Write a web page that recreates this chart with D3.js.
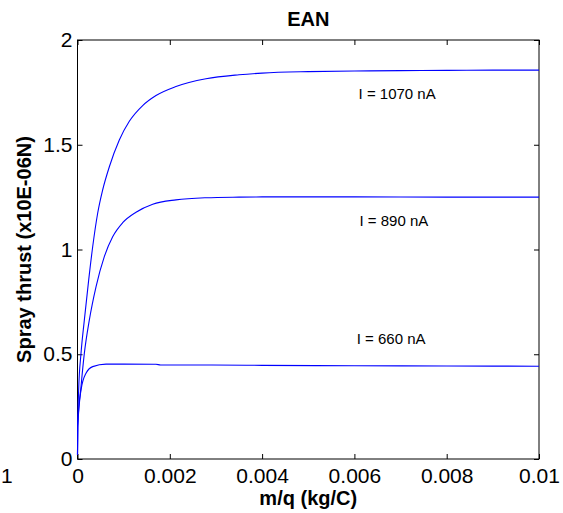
<!DOCTYPE html>
<html>
<head>
<meta charset="utf-8">
<script src="https://cdn.jsdelivr.net/npm/d3@7"></script>
<style>
  body { margin: 0; background: #fff; }
  text { font-family: Arial, "Liberation Sans", sans-serif; }
</style>
</head>
<body>
<div id="chart"></div>
<script>
// EAN spray thrust vs m/q, three emission currents

var xTicks = [0, 0.002, 0.004, 0.006, 0.008, 0.01];
var yTicks = [0, 0.5, 1, 1.5, 2];

var mq1070 = [0, 0.000005, 0.000025, 0.000076, 0.000148, 0.000242, 0.000329, 0.000437, 0.000545, 0.00069, 0.000906, 0.001123, 0.001412, 0.001701, 0.002134, 0.002784, 0.0035, 0.004, 0.005, 0.006, 0.007, 0.008, 0.009, 0.01];
var thrust1070 = [0.02, 0.16, 0.329, 0.504, 0.663, 0.854, 1.013, 1.173, 1.284, 1.395, 1.523, 1.612, 1.687, 1.735, 1.778, 1.815, 1.834, 1.842, 1.849, 1.852, 1.854, 1.855, 1.856, 1.856];

var mq890 = [0, 0.000005, 0.000076, 0.000148, 0.000256, 0.000401, 0.000581, 0.000762, 0.000979, 0.001268, 0.00163, 0.002134, 0.002784, 0.0035, 0.004, 0.006, 0.008, 0.01];
var thrust890 = [0.02, 0.16, 0.345, 0.504, 0.663, 0.822, 0.966, 1.061, 1.128, 1.178, 1.216, 1.237, 1.247, 1.25, 1.251, 1.251, 1.25, 1.25];

var mq660 = [0, 0.000005, 0.000076, 0.000184, 0.000329, 0.000618, 0.001, 0.0017, 0.0018, 0.00278, 0.004, 0.006, 0.008, 0.01];
var thrust660 = [0.02, 0.15, 0.329, 0.409, 0.441, 0.453, 0.453, 0.452, 0.449, 0.449, 0.447, 0.445, 0.444, 0.443];

var labels = ["I = 1070 nA", "I = 890 nA", "I = 660 nA"];
var labelX = [0.00609, 0.00611, 0.00605];
var labelY = [1.72, 1.11, 0.55];

var width = 563, height = 513;
var margin = {left: 77.5, right: 24, top: 40, bottom: 54};

var svg = d3.select("#chart").append("svg")
    .attr("width", width)
    .attr("height", height);

var x = d3.scaleLinear().domain([0, 0.01]).range([margin.left, width - margin.right]);
var y = d3.scaleLinear().domain([0, 2]).range([height - margin.bottom, margin.top]);
var fmt = d3.format("~g");

// box
svg.append("rect")
    .attr("x", x(0)).attr("y", y(2))
    .attr("width", x(0.01) - x(0)).attr("height", y(0) - y(2))
    .attr("fill", "none").attr("stroke", "#000").attr("stroke-width", 1);

function styleAxis(g) {
  g.select(".domain").remove();
  g.selectAll("line").attr("stroke", "#000");
  g.selectAll("text").attr("fill", "#000").style("font-size", "21px")
    .style("font-family", "Arial, 'Liberation Sans', sans-serif");
}

svg.append("g")
    .attr("transform", "translate(0," + y(0) + ")")
    .call(d3.axisBottom(x).tickValues(xTicks).tickFormat(fmt).tickSizeInner(-5).tickSizeOuter(0).tickPadding(9))
    .call(styleAxis);

svg.append("g")
    .attr("transform", "translate(0," + y(2) + ")")
    .call(d3.axisTop(x).tickValues(xTicks).tickFormat("").tickSizeInner(-5).tickSizeOuter(0))
    .call(styleAxis);

svg.append("g")
    .attr("transform", "translate(" + x(0) + ",0)")
    .call(d3.axisLeft(y).tickValues(yTicks).tickFormat(fmt).tickSizeInner(-5).tickSizeOuter(0).tickPadding(5))
    .call(styleAxis);

svg.append("g")
    .attr("transform", "translate(" + x(0.01) + ",0)")
    .call(d3.axisRight(y).tickValues(yTicks).tickFormat("").tickSizeInner(-5).tickSizeOuter(0))
    .call(styleAxis);

// curves
var line = d3.line()
    .x(function(d) { return x(d[0]); })
    .y(function(d) { return y(d[1]); })
    .curve(d3.curveMonotoneX);

[[mq1070, thrust1070], [mq890, thrust890], [mq660, thrust660]].forEach(function(s) {
  svg.append("path")
      .datum(d3.zip(s[0], s[1]))
      .attr("d", line)
      .attr("fill", "none")
      .attr("stroke", "#0000ff")
      .attr("stroke-width", 1.1);
});

labels.forEach(function(t, i) {
  svg.append("text")
      .attr("x", x(labelX[i])).attr("y", y(labelY[i]))
      .style("font-size", "15px")
      .text(t);
});

// title and axis labels
svg.append("text")
    .attr("x", (x(0) + x(0.01)) / 2).attr("y", 26)
    .attr("text-anchor", "middle")
    .style("font-size", "20px").style("font-weight", "bold")
    .text("EAN");

svg.append("text")
    .attr("x", (x(0) + x(0.01)) / 2).attr("y", 505)
    .attr("text-anchor", "middle")
    .style("font-size", "20px").style("font-weight", "bold")
    .text("m/q (kg/C)");

svg.append("text")
    .attr("transform", "translate(31," + ((y(0) + y(2)) / 2) + ") rotate(-90)")
    .attr("text-anchor", "middle")
    .style("font-size", "20px").style("font-weight", "bold")
    .text("Spray thrust (x10E-06N)");

// stray label from a neighbouring axis, cut by the left edge in the reference
svg.append("text")
    .attr("x", 1).attr("y", 483)
    .style("font-size", "21px")
    .text("1");
</script>
</body>
</html>
